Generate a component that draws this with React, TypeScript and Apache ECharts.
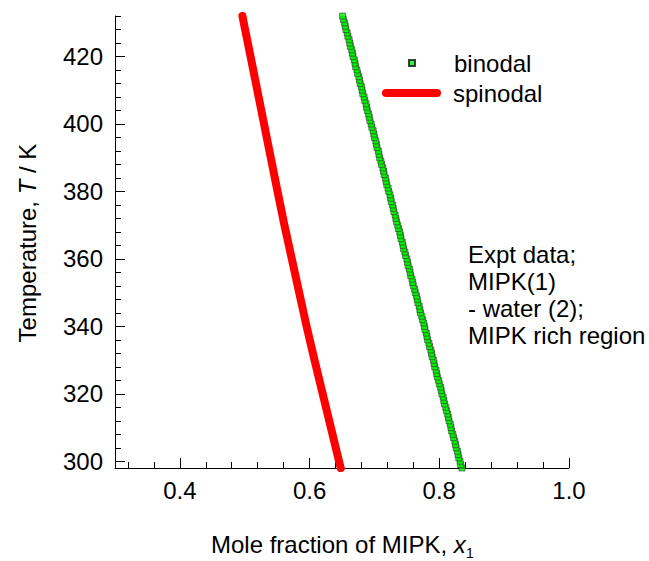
import { useEffect, useRef } from "react";
import * as echarts from "echarts";

const FONT = "'Liberation Sans', Arial, sans-serif";

// Axis ticks
const xMajorTicks = [0.4, 0.6, 0.8, 1.0];
const xMinorTicks = [0.32, 0.36, 0.4, 0.44, 0.48, 0.52, 0.56, 0.6, 0.64, 0.68, 0.72, 0.76, 0.8, 0.84, 0.88, 0.92, 0.96, 1.0];
const yMajorTicks = [300, 320, 340, 360, 380, 400, 420];
const yMinorTicks = [300, 304, 308, 312, 316, 320, 324, 328, 332, 336, 340, 344, 348, 352, 356, 360, 364, 368, 372, 376, 380, 384, 388, 392, 396, 400, 404, 408, 412, 416, 420, 424, 428, 432];

// Spinodal curve
const spinodalT = [298, 300, 310, 320, 330, 340, 350, 360, 370, 380, 390, 400, 410, 420, 430, 432];
const spinodalX = [0.648, 0.6454, 0.6328, 0.6202, 0.6076, 0.5954, 0.584, 0.5726, 0.5612, 0.5506, 0.5402, 0.5298, 0.5194, 0.509, 0.4985, 0.4965];

// Binodal (experimental) points
const binodalT = [
  298, 299, 300, 301, 302, 303, 304, 305, 306, 307, 308, 309, 310, 311, 312, 313, 314, 315, 316, 317,
  318, 319, 320, 321, 322, 323, 324, 325, 326, 327, 328, 329, 330, 331, 332, 333, 334, 335, 336, 337,
  338, 339, 340, 341, 342, 343, 344, 345, 346, 347, 348, 349, 350, 351, 352, 353, 354, 355, 356, 357,
  358, 359, 360, 361, 362, 363, 364, 365, 366, 367, 368, 369, 370, 371, 372, 373, 374, 375, 376, 377,
  378, 379, 380, 381, 382, 383, 384, 385, 386, 387, 388, 389, 390, 391, 392, 393, 394, 395, 396, 397,
  398, 399, 400, 401, 402, 403, 404, 405, 406, 407, 408, 409, 410, 411, 412, 413, 414, 415, 416, 417,
  418, 419, 420, 421, 422, 423, 424, 425, 426, 427, 428, 429, 430, 431, 432,
];
const binodalX = [
  0.835, 0.833, 0.832, 0.830, 0.829, 0.828, 0.826, 0.825, 0.824, 0.822,
  0.821, 0.819, 0.818, 0.817, 0.815, 0.814, 0.813, 0.811, 0.810, 0.808,
  0.807, 0.806, 0.804, 0.803, 0.802, 0.800, 0.799, 0.797, 0.796, 0.795,
  0.793, 0.792, 0.791, 0.789, 0.788, 0.787, 0.785, 0.784, 0.782, 0.781,
  0.780, 0.778, 0.777, 0.776, 0.774, 0.773, 0.771, 0.770, 0.769, 0.767,
  0.766, 0.765, 0.763, 0.762, 0.760, 0.759, 0.758, 0.756, 0.755, 0.754,
  0.752, 0.751, 0.750, 0.748, 0.747, 0.745, 0.744, 0.743, 0.741, 0.740,
  0.739, 0.737, 0.736, 0.734, 0.733, 0.732, 0.730, 0.729, 0.728, 0.726,
  0.725, 0.724, 0.722, 0.721, 0.719, 0.718, 0.717, 0.715, 0.714, 0.713,
  0.711, 0.710, 0.708, 0.707, 0.706, 0.704, 0.703, 0.702, 0.700, 0.699,
  0.698, 0.696, 0.695, 0.693, 0.692, 0.691, 0.689, 0.688, 0.687, 0.685,
  0.684, 0.682, 0.681, 0.680, 0.678, 0.677, 0.676, 0.674, 0.673, 0.671,
  0.670, 0.669, 0.667, 0.666, 0.665, 0.663, 0.662, 0.661, 0.659, 0.658,
  0.656, 0.655, 0.654, 0.652, 0.651,
];

const X_MIN = 0.3;
const X_MAX = 1.0;
const Y_MIN = 298;
const Y_MAX = 432;

const noteLines = ["Expt data;", "MIPK(1)", "- water (2);", "MIPK rich region"];

const CAPSULE = "path://M4,0 L55,0 A4,4 0 0 1 55,8 L4,8 A4,4 0 0 1 4,0 Z";

export default function App() {
  const ref = useRef<HTMLDivElement>(null);

  useEffect(() => {
    document.body.style.margin = "0";
    if (!ref.current) return;
    const chart = echarts.init(ref.current, null, { renderer: "svg" });

    const axisLineStyle = { show: true, lineStyle: { color: "#000", width: 1 } };
    const labelStyle = { fontSize: 24, fontFamily: FONT, color: "#000" };
    const legendText = { fontSize: 24, fontFamily: FONT, color: "#000" };

    const option: any = {
      animation: false,
      backgroundColor: "#fff",
      textStyle: { fontFamily: FONT },
      grid: { left: 115, top: 16, width: 454, height: 452, containLabel: false },
      xAxis: [
        {
          type: "value",
          min: X_MIN,
          max: X_MAX,
          position: "bottom",
          axisLine: axisLineStyle,
          splitLine: { show: false },
          axisTick: { show: true, inside: true, length: 10, customValues: xMajorTicks, lineStyle: { color: "#000" } },
          axisLabel: {
            show: true,
            customValues: xMajorTicks,
            margin: 10,
            formatter: (v: number) => v.toFixed(1),
            ...labelStyle,
          },
        },
        {
          type: "value",
          min: X_MIN,
          max: X_MAX,
          position: "bottom",
          offset: 0,
          axisLine: { show: false },
          splitLine: { show: false },
          axisTick: { show: true, inside: true, length: 6, customValues: xMinorTicks, lineStyle: { color: "#000" } },
          axisLabel: { show: false },
        },
      ],
      yAxis: [
        {
          type: "value",
          min: Y_MIN,
          max: Y_MAX,
          position: "left",
          axisLine: axisLineStyle,
          splitLine: { show: false },
          axisTick: { show: true, inside: true, length: 10, customValues: yMajorTicks, lineStyle: { color: "#000" } },
          axisLabel: { show: true, customValues: yMajorTicks, margin: 12, ...labelStyle },
        },
        {
          type: "value",
          min: Y_MIN,
          max: Y_MAX,
          position: "left",
          offset: 0,
          axisLine: { show: false },
          splitLine: { show: false },
          axisTick: { show: true, inside: true, length: 6, customValues: yMinorTicks, lineStyle: { color: "#000" } },
          axisLabel: { show: false },
        },
      ],
      legend: [
        {
          data: [{ name: "binodal", icon: "rect" }],
          left: 408,
          top: 51,
          padding: 0,
          itemWidth: 6,
          itemHeight: 6,
          textStyle: { ...legendText, padding: [0, 0, 0, 34] },
        },
        {
          data: [{ name: "spinodal", icon: CAPSULE }],
          left: 382,
          top: 81,
          padding: 0,
          itemWidth: 59,
          itemHeight: 8,
          itemStyle: { color: "#ff0000", borderWidth: 0 },
          textStyle: { ...legendText, padding: [0, 0, 0, 7] },
        },
      ],
      series: [
        {
          name: "binodal",
          type: "scatter",
          xAxisIndex: 0,
          yAxisIndex: 0,
          symbol: "rect",
          symbolSize: 6,
          itemStyle: { color: "#00f000", borderColor: "#111", borderWidth: 0.6 },
          data: binodalT.map((t, i) => [binodalX[i], t]),
          z: 3,
        },
        {
          name: "spinodal",
          type: "line",
          xAxisIndex: 0,
          yAxisIndex: 0,
          symbol: "none",
          showSymbol: false,
          clip: false,
          smooth: false,
          itemStyle: { color: "#ff0000" },
          lineStyle: { color: "#ff0000", width: 8, cap: "round", join: "round" },
          data: spinodalT.map((t, i) => [spinodalX[i], t]),
          z: 2,
        },
      ],
      graphic: [
        {
          type: "text",
          x: 27,
          y: 243,
          rotation: Math.PI / 2,
          style: {
            text: "{a|Temperature, }{b|T}{a| / K}",
            align: "center",
            verticalAlign: "middle",
            rich: {
              a: { fontSize: 24, fontFamily: FONT, fill: "#000" },
              b: { fontSize: 24, fontFamily: FONT, fontStyle: "italic", fill: "#000" },
            },
          },
        },
        {
          type: "text",
          x: 211,
          y: 544,
          style: {
            text: "{a|Mole fraction of MIPK, }{b|x}",
            align: "left",
            verticalAlign: "middle",
            rich: {
              a: { fontSize: 24, fontFamily: FONT, fill: "#000" },
              b: { fontSize: 24, fontFamily: FONT, fontStyle: "italic", fill: "#000" },
            },
          },
        },
        {
          type: "text",
          x: 466,
          y: 553,
          style: {
            text: "1",
            font: `14px ${FONT}`,
            fill: "#000",
            align: "left",
            verticalAlign: "middle",
          },
        },
        {
          type: "text",
          x: 468,
          y: 241,
          style: {
            text: noteLines.join("\n"),
            font: `24px ${FONT}`,
            lineHeight: 27,
            fill: "#000",
            align: "left",
            verticalAlign: "top",
          },
        },
      ],
    };

    chart.setOption(option);
    return () => chart.dispose();
  }, []);

  return <div ref={ref} style={{ width: 649, height: 561 }} />;
}
